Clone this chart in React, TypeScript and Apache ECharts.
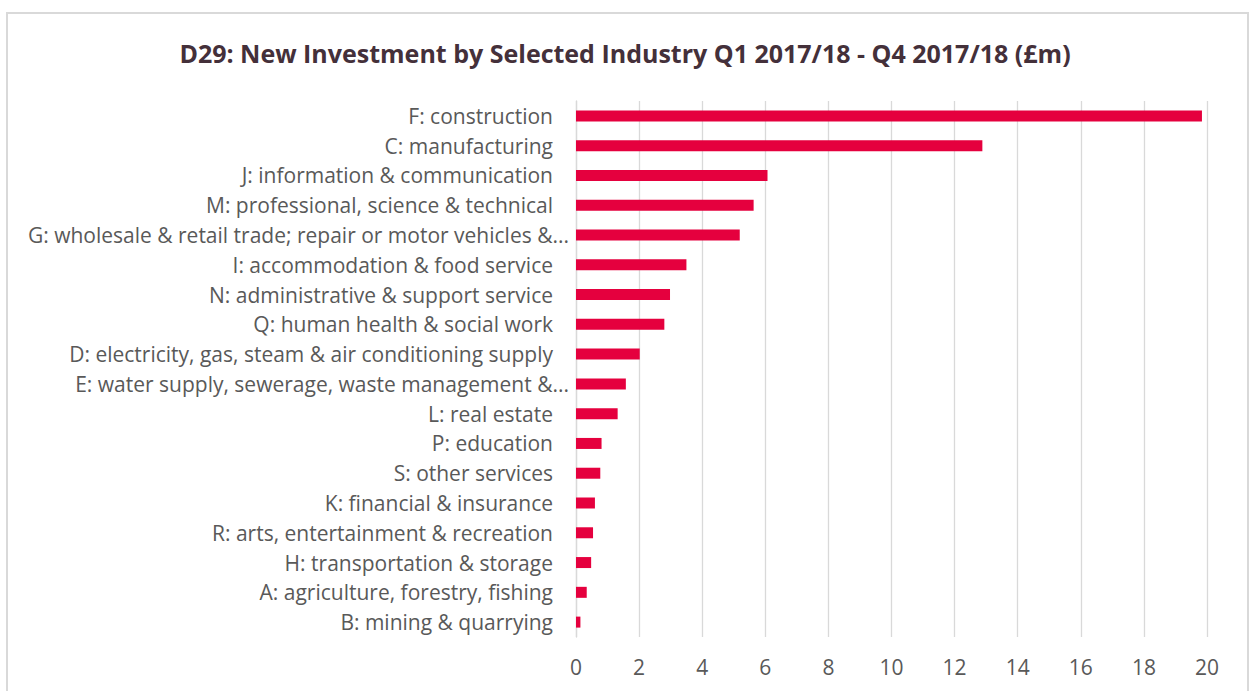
import React, { useEffect, useRef } from "react";
import * as echarts from "echarts";

const categories = [
  "F: construction",
  "C: manufacturing",
  "J: information & communication",
  "M: professional, science & technical",
  "G: wholesale & retail trade; repair or motor vehicles &...",
  "I: accommodation & food service",
  "N: administrative & support service",
  "Q: human health & social work",
  "D: electricity, gas, steam & air conditioning supply",
  "E: water supply, sewerage, waste management &...",
  "L: real estate",
  "P: education",
  "S: other services",
  "K: financial & insurance",
  "R: arts, entertainment & recreation",
  "H: transportation & storage",
  "A: agriculture, forestry, fishing",
  "B: mining & quarrying",
];

const values = [
  19.84, 12.88, 6.07, 5.63, 5.19, 3.5, 2.98, 2.8, 2.02, 1.58, 1.32, 0.81, 0.77,
  0.6, 0.54, 0.48, 0.34, 0.14,
];

const xTicks = [0, 2, 4, 6, 8, 10, 12, 14, 16, 18, 20];

const title = "D29: New Investment by Selected Industry Q1 2017/18 - Q4 2017/18 (£m)";

export default function App() {
  const ref = useRef<HTMLDivElement>(null);
  useEffect(() => {
    if (!ref.current) return;
    const chart = echarts.init(ref.current, undefined, { renderer: "svg" });
    const font = "'Open Sans', 'Noto Sans', sans-serif";
    const fs = 21;
    chart.setOption({
      animation: false,
      backgroundColor: "#ffffff",
      title: {
        text: title,
        left: "center",
        top: 35,
        textStyle: {
          fontFamily: font,
          fontWeight: "bold",
          fontSize: 25,
          color: "#44303a",
        },
      },
      graphic: [
        {
          type: "rect",
          shape: { x: 7, y: 13, width: 1241, height: 700 },
          style: { fill: "none", stroke: "#d9d9d9", lineWidth: 2 },
          silent: true,
        },
      ],
      grid: { left: 576, right: 43, top: 101, bottom: 54, containLabel: false },
      xAxis: {
        type: "value",
        min: xTicks[0],
        max: xTicks[xTicks.length - 1],
        interval: 2,
        axisLine: { show: false },
        axisTick: { show: false },
        splitLine: { lineStyle: { color: "#d9d9d9", width: 1.3 } },
        axisLabel: {
          margin: 19,
          fontFamily: font,
          fontSize: fs,
          color: "#595959",
        },
      },
      yAxis: {
        type: "category",
        inverse: true,
        data: categories,
        axisLine: { show: true, lineStyle: { color: "#d9d9d9", width: 1.3 } },
        axisTick: { show: false },
        axisLabel: {
          margin: 7,
          fontFamily: font,
          fontSize: fs,
          color: "#595959",
          formatter: (v: string) =>
            v.endsWith("...") ? `{e|${v}}` : `{n|${v}}`,
          rich: {
            n: { fontFamily: font, fontSize: fs, color: "#595959", padding: [0, 16, 0, 0] },
            e: { fontFamily: font, fontSize: fs, color: "#595959" },
          },
        },
      },
      series: [
        {
          type: "bar",
          data: values,
          barWidth: 11,
          itemStyle: { color: "#e5003e" },
        },
      ],
    });
    return () => chart.dispose();
  }, []);
  return (
    <div
      ref={ref}
      style={{ position: "fixed", left: 0, top: 0, width: 1250, height: 691 }}
    />
  );
}
